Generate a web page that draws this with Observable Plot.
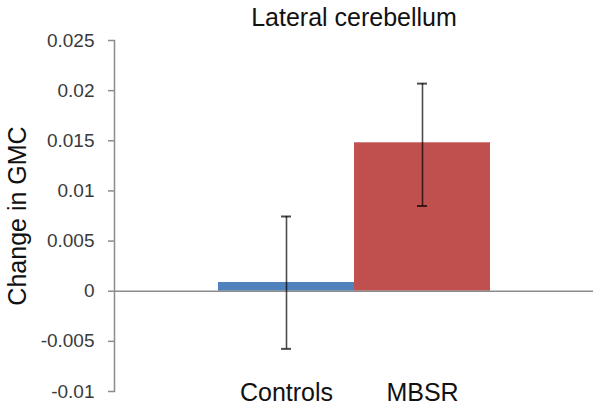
<!DOCTYPE html>
<html><head><meta charset="utf-8">
<script src="https://cdn.jsdelivr.net/npm/d3@7"></script>
<script src="https://cdn.jsdelivr.net/npm/@observablehq/plot@0.6"></script>
<style>body{margin:0;background:#fff}</style>
</head><body><div id="chart"></div>
<script>
const categories = ["Controls", "MBSR"];
const values = [0.00087, 0.0148];
const errLow = [-0.00575, 0.0085];
const errHigh = [0.00745, 0.0207];
const yTicks = [-0.01, -0.005, 0, 0.005, 0.01, 0.015, 0.02, 0.025];
const colors = ["#4F81BD", "#C0504D"];
const title = "Lateral cerebellum";
const yLabel = "Change in GMC";

const data = categories.map((c, i) => ({cat: c, value: values[i], lo: errLow[i], hi: errHigh[i]}));

const chart = Plot.plot({
  width: 601, height: 410,
  marginTop: 40, marginBottom: 19, marginLeft: 114, marginRight: 8,
  style: {fontFamily: "'Liberation Sans', Arial, sans-serif", background: "#fff", overflow: "visible"},
  x: {domain: categories, paddingInner: 0, paddingOuter: 0.76, axis: null},
  y: {domain: [-0.01, 0.025], axis: null},
  color: {domain: categories, range: colors},
  marks: [
    Plot.barY(data, {x: "cat", y: "value", fill: "cat"}),
    Plot.ruleY([0], {stroke: "#8c8c8c", strokeWidth: 1.5}),
    Plot.frame({anchor: "left", stroke: "#8c8c8c", strokeWidth: 1.5}),
    Plot.axisY({ticks: yTicks, tickFormat: d => String(d), tickSize: 6, tickPadding: 14,
      fontSize: 19, fill: "#3a3a3a", stroke: "#8c8c8c", strokeWidth: 1.5, label: null}),
    Plot.axisX({anchor: "bottom", tickSize: 0, tickPadding: -8, fontSize: 25, fill: "#111", label: null}),
    Plot.ruleX(data, {x: "cat", y1: "lo", y2: "hi", stroke: "#000", strokeOpacity: 0.7, strokeWidth: 1.6}),
    Plot.tickY(data, {x: "cat", y: "lo", insetLeft: 63, insetRight: 63, stroke: "#000", strokeOpacity: 0.7, strokeWidth: 2}),
    Plot.tickY(data, {x: "cat", y: "hi", insetLeft: 63, insetRight: 63, stroke: "#000", strokeOpacity: 0.7, strokeWidth: 2}),
    Plot.text([title], {frameAnchor: "top", dy: -32, fontSize: 25, fill: "#111"}),
    Plot.text([yLabel], {frameAnchor: "left", textAnchor: "middle", rotate: -90, dx: -97, fontSize: 25, fill: "#111"})
  ]
});
document.getElementById("chart").appendChild(chart);
</script>
</body></html>
